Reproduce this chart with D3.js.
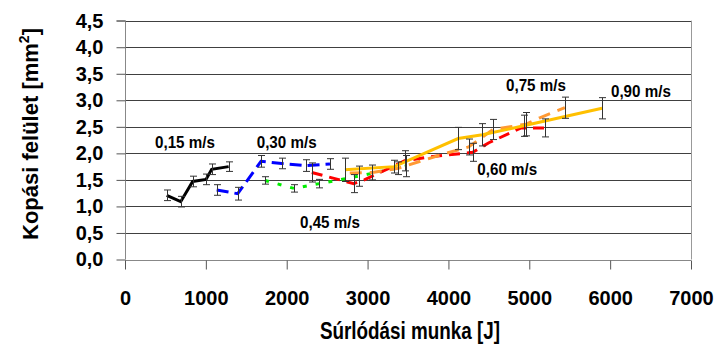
<!DOCTYPE html>
<html lang="hu">
<head>
<meta charset="UTF-8" />
<title>Kopási felület – súrlódási munka</title>
<script src="https://d3js.org/d3.v7.min.js"></script>
<style>
    body { margin: 0; background: #fff; }
    svg { font-family: "Liberation Sans", Arial, sans-serif; font-weight: bold; }
</style>
</head>
<body>
<svg id="chart"></svg>
<script>
    // 0,15 m/s
    const work015 = [516, 689, 837, 1002, 1072, 1282];
    const area015 = [1.21, 1.09, 1.47, 1.51, 1.70, 1.75];
    const err015 = [0.10, 0.10, 0.10, 0.10, 0.10, 0.09];
    // 0,30 m/s
    const work030 = [1134, 1394, 1682, 1938, 2235, 2535];
    const area030 = [1.31, 1.24, 1.85, 1.81, 1.77, 1.80];
    const err030 = [0.10, 0.12, 0.11, 0.10, 0.11, 0.10];
    // 0,45 m/s
    const work045 = [1732, 2090, 2405, 2890, 3470];
    const area045 = [1.49, 1.34, 1.43, 1.57, 1.76];
    const err045 = [0.07, 0.07, 0.08, 0.19, 0.20];
    // 0,60 m/s
    const work060 = [2310, 2830, 2960, 3460, 3750, 4300, 4500, 4900, 5200];
    const area060 = [1.64, 1.43, 1.50, 1.86, 1.93, 2.02, 2.20, 2.48, 2.48];
    const err060 = [0.18, 0.17, 0, 0.19, 0, 0.17, 0, 0, 0.17];
    // 0,75 m/s
    const work075 = [2780, 3060, 3380, 3900, 4250, 4550, 4960, 5130, 5440];
    const area075 = [1.63, 1.64, 1.72, 1.97, 2.12, 2.45, 2.55, 2.67, 2.86];
    const err075 = [0, 0.14, 0.12, 0, 0.15, 0.19, 0.22, 0, 0.20];
    // 0,90 m/s
    const work090 = [2720, 3330, 4120, 4420, 4930, 5900];
    const area090 = [1.69, 1.75, 2.28, 2.35, 2.52, 2.85];
    const err090 = [0.22, 0.12, 0.21, 0.21, 0.20, 0.20];

    const speedLabels = ["0,15 m/s", "0,30 m/s", "0,45 m/s", "0,60 m/s", "0,75 m/s", "0,90 m/s"];
    // label anchor (left edge, baseline) in data units
    const labelWork = [371, 1629, 2164, 4357, 4712, 6010];
    const labelArea = [2.10, 2.10, 0.59, 1.59, 3.17, 3.07];

    const xTicks = [0, 1000, 2000, 3000, 4000, 5000, 6000, 7000];
    const yTicks = [0, 0.5, 1, 1.5, 2, 2.5, 3, 3.5, 4, 4.5];

    const series = [
        { xs: work015, ys: area015, es: err015, color: "#000000", dash: null },
        { xs: work030, ys: area030, es: err030, color: "#0000ff", dash: "12,6" },
        { xs: work045, ys: area045, es: err045, color: "#00ee00", dash: "4,9" },
        { xs: work060, ys: area060, es: err060, color: "#ff0000", dash: "11,7" },
        { xs: work075, ys: area075, es: err075, color: "#ff9933", dash: "12,8" },
        { xs: work090, ys: area090, es: err090, color: "#ffc000", dash: null }
    ].map(s => ({ ...s, points: s.xs.map((x, i) => ({ x, y: s.ys[i], e: s.es[i] })) }));

    const width = 720, height = 345;
    const margin = { top: 20.7, right: 29, bottom: 85.5, left: 125 };

    const svg = d3.select("#chart").attr("width", width).attr("height", height);

    const x = d3.scaleLinear().domain([0, 7000]).range([margin.left, width - margin.right]);
    const y = d3.scaleLinear().domain([0, 4.5]).range([height - margin.bottom, margin.top]);

    // gridlines
    svg.append("g")
        .selectAll("line")
        .data(yTicks.filter(d => d > 0))
        .join("line")
        .attr("x1", margin.left).attr("x2", width - margin.right)
        .attr("y1", d => Math.round(y(d)) + 0.5).attr("y2", d => Math.round(y(d)) + 0.5)
        .attr("stroke", "#404040").attr("stroke-width", 1);

    // right border
    svg.append("line")
        .attr("x1", Math.round(x(7000)) + 0.5).attr("x2", Math.round(x(7000)) + 0.5)
        .attr("y1", y(4.5)).attr("y2", y(0))
        .attr("stroke", "#999");

    const yAxis = svg.append("g")
        .attr("transform", `translate(${margin.left + 0.5},0)`)
        .call(d3.axisLeft(y).tickValues(yTicks).tickSize(9).tickPadding(13)
            .tickFormat(d => d3.format(".1f")(d).replace(".", ",")));
    const xAxis = svg.append("g")
        .attr("transform", `translate(0,${Math.round(y(0)) + 0.5})`)
        .call(d3.axisBottom(x).tickValues(xTicks).tickSize(9).tickPadding(21).tickFormat(d3.format("d")));

    [yAxis, xAxis].forEach(a => {
        a.select(".domain").attr("stroke", "#888");
        a.selectAll(".tick line").attr("stroke", "#555");
        a.selectAll("text")
            .attr("fill", "#000")
            .attr("font-family", "Liberation Sans, Arial, sans-serif")
            .attr("font-weight", "bold")
            .attr("font-size", 20);
    });
    yAxis.select(".domain").attr("d", `M-9,${y(4.5)}H0V${y(0)}`);
    xAxis.select(".domain").attr("d", `M${x(0)},0H${x(7000)}`);

    // lines
    const line = d3.line().x(d => x(d.x)).y(d => y(d.y));

    svg.append("g")
        .attr("fill", "none")
        .selectAll("path")
        .data(series)
        .join("path")
        .attr("stroke", d => d.color)
        .attr("stroke-width", 3)
        .attr("stroke-dasharray", d => d.dash)
        .attr("d", d => line(d.points));

    // error bars
    const bars = svg.append("g")
        .attr("stroke", "#333")
        .attr("stroke-width", 1)
        .selectAll("g")
        .data(series.flatMap(s => s.points.filter(p => p.e > 0)))
        .join("g")
        .attr("transform", d => `translate(${Math.round(x(d.x)) + 0.5},0)`);
    bars.append("line")
        .attr("y1", d => y(d.y - d.e)).attr("y2", d => y(d.y + d.e));
    bars.append("line")
        .attr("x1", -3.5).attr("x2", 3.5)
        .attr("y1", d => y(d.y - d.e)).attr("y2", d => y(d.y - d.e));
    bars.append("line")
        .attr("x1", -3.5).attr("x2", 3.5)
        .attr("y1", d => y(d.y + d.e)).attr("y2", d => y(d.y + d.e));

    // speed labels
    svg.append("g")
        .attr("font-size", 16.5)
        .selectAll("text")
        .data(speedLabels)
        .join("text")
        .attr("transform", (d, i) => `translate(${x(labelWork[i])},${y(labelArea[i])}) scale(0.92,1)`)
        .text(d => d);

    // axis titles
    svg.append("text")
        .attr("transform", "translate(410,339) scale(0.82,1)")
        .attr("text-anchor", "middle")
        .attr("font-size", 23)
        .text("Súrlódási munka [J]");

    const yt = svg.append("text")
        .attr("transform", "translate(38,134) rotate(-90)")
        .attr("text-anchor", "middle")
        .attr("font-size", 22);
    yt.append("tspan").text("Kopási felület [mm");
    yt.append("tspan").attr("font-size", 14).attr("dy", -9).text("2");
    yt.append("tspan").attr("dy", 9).text("]");
</script>
</body>
</html>
